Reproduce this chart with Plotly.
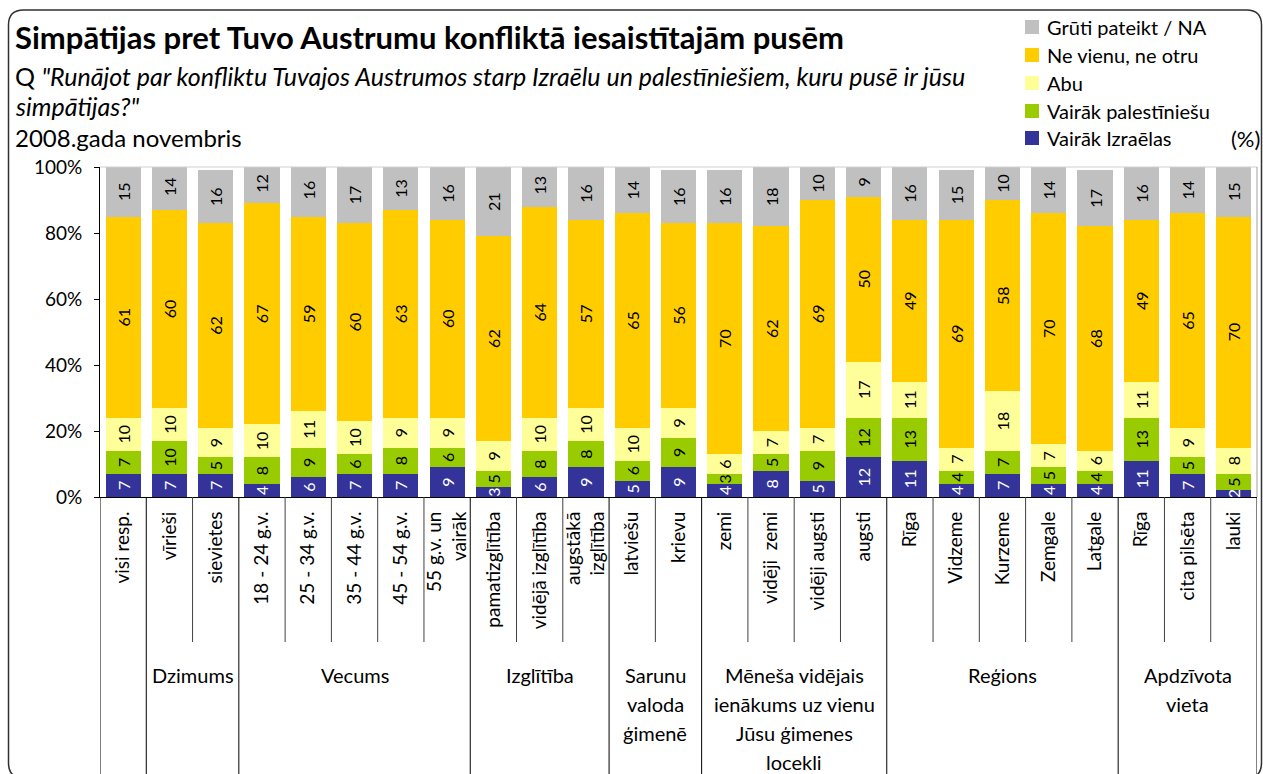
import plotly.graph_objects as go

# ---------------- data ----------------
categories = ["visi resp.", "vīrieši", "sievietes",
              "18 - 24 g.v.", "25 - 34 g.v.", "35 - 44 g.v.", "45 - 54 g.v.", "55 g.v. un<br>vairāk",
              "pamatizglītība", "vidējā izglītība", "augstākā<br>izglītība",
              "latviešu", "krievu",
              "zemi", "vidēji  zemi", "vidēji augsti", "augsti",
              "Rīga", "Vidzeme", "Kurzeme", "Zemgale", "Latgale",
              "Rīga", "cita pilsēta", "lauki"]

series_names = ["Vairāk Izraēlas", "Vairāk palestīniešu", "Abu", "Ne vienu, ne otru", "Grūti pateikt / NA"]
israel  = [7, 7, 7, 4, 6, 7, 7, 9, 3, 6, 9, 5, 9, 4, 8, 5, 12, 11, 4, 7, 4, 4, 11, 7, 2]
palest  = [7, 10, 5, 8, 9, 6, 8, 6, 5, 8, 8, 6, 9, 3, 5, 9, 12, 13, 4, 7, 5, 4, 13, 5, 5]
abu     = [10, 10, 9, 10, 11, 10, 9, 9, 9, 10, 10, 10, 9, 6, 7, 7, 17, 11, 7, 18, 7, 6, 11, 9, 8]
neither = [61, 60, 62, 67, 59, 60, 63, 60, 62, 64, 57, 65, 56, 70, 62, 69, 50, 49, 69, 58, 70, 68, 49, 65, 70]
na      = [15, 14, 16, 12, 16, 17, 13, 16, 21, 13, 16, 14, 16, 16, 18, 10, 9, 16, 15, 10, 14, 17, 16, 14, 15]

# groups: (label lines, first index, last index)
groups = [([], 0, 0),
          (["Dzimums"], 1, 2),
          (["Vecums"], 3, 7),
          (["Izglītība"], 8, 10),
          (["Sarunu", "valoda", "ģimenē"], 11, 12),
          (["Mēneša vidējais", "ienākums uz vienu", "Jūsu ģimenes", "locekli"], 13, 16),
          (["Reģions"], 17, 21),
          (["Apdzīvota", "vieta"], 22, 24)]

y_ticks = [0, 20, 40, 60, 80, 100]

colors = ["#333399", "#99CC00", "#FFFF99", "#FFCC00", "#C0C0C0"]
text_colors = ["white", "black", "black", "black", "black"]

FONT = "Lato"
W, H = 1263, 774
L, R, T, B = 100, 6, 167, 277
PW, PH = W - L - R, H - T - B


def pxx(px):
    return (px - L) / PW


def pxy(py):
    return (H - B - py) / PH


x = list(range(len(categories)))
fig = go.Figure()
for name, vals, col, tcol in zip(series_names, [israel, palest, abu, neither, na], colors, text_colors):
    fig.add_trace(go.Bar(
        x=x, y=vals, name=name, width=0.76,
        marker=dict(color=col, line=dict(width=0)),
        text=[str(v) for v in vals], textposition="inside", insidetextanchor="middle",
        textangle=-90, textfont=dict(family=FONT, size=16, color=tcol),
        showlegend=False, hoverinfo="skip",
    ))

shapes = []
# plot area top/right border
shapes.append(dict(type="line", xref="paper", yref="paper", x0=0, x1=1, y0=1, y1=1,
                   line=dict(color="#D0D0D0", width=1)))
shapes.append(dict(type="line", xref="paper", yref="paper", x0=1, x1=1, y0=0, y1=1,
                   line=dict(color="#A0A0A0", width=1)))

# separators below the axis
group_bounds = set()
for _, a, b in groups:
    group_bounds.add(a - 0.5)
    group_bounds.add(b + 0.5)
for i in range(len(categories) + 1):
    bx = i - 0.5
    is_group = bx in group_bounds
    ybot = pxy(780) if is_group else pxy(642)
    shapes.append(dict(type="line", xref="x", yref="paper", x0=bx, x1=bx, y0=0, y1=ybot,
                       line=dict(color="black" if is_group else "#404040", width=1)))

# outer rounded frame
fl, ft, fr, fb, rr = 8.5, 10, 1261.5, 778, 15
path = (f"M {pxx(fl)},{pxy(ft + rr)} "
        f"Q {pxx(fl)},{pxy(ft)} {pxx(fl + rr)},{pxy(ft)} "
        f"L {pxx(fr - rr)},{pxy(ft)} "
        f"Q {pxx(fr)},{pxy(ft)} {pxx(fr)},{pxy(ft + rr)} "
        f"L {pxx(fr)},{pxy(fb - rr)} "
        f"Q {pxx(fr)},{pxy(fb)} {pxx(fr - rr)},{pxy(fb)} "
        f"L {pxx(fl + rr)},{pxy(fb)} "
        f"Q {pxx(fl)},{pxy(fb)} {pxx(fl)},{pxy(fb - rr)} Z")
shapes.append(dict(type="path", xref="paper", yref="paper", path=path,
                   line=dict(color="#303030", width=1.5), layer="above"))

# legend swatches (top to bottom)
legend_order = [4, 3, 2, 1, 0]
legend_y = [27, 55, 83, 111, 138]
annotations = []
for idx, ly in zip(legend_order, legend_y):
    shapes.append(dict(type="rect", xref="paper", yref="paper",
                       x0=pxx(1025), x1=pxx(1039), y0=pxy(ly - 7), y1=pxy(ly + 7),
                       fillcolor=colors[idx], line=dict(width=0)))
    annotations.append(dict(xref="paper", yref="paper", x=pxx(1045), y=pxy(ly),
                            xanchor="left", yanchor="middle", showarrow=False,
                            text=series_names[idx], font=dict(family=FONT, size=20, color="black")))
annotations.append(dict(xref="paper", yref="paper", x=pxx(1262), y=pxy(138),
                        xanchor="right", yanchor="middle", showarrow=False,
                        text="(%)", font=dict(family=FONT, size=22, color="black")))

# titles
annotations.append(dict(xref="paper", yref="paper", x=pxx(13), y=pxy(37),
                        xanchor="left", yanchor="middle", showarrow=False,
                        text="<b>Simpātijas pret Tuvo Austrumu konfliktā iesaistītajām pusēm</b>",
                        font=dict(family=FONT, size=31, color="black")))
annotations.append(dict(xref="paper", yref="paper", x=pxx(13), y=pxy(76),
                        xanchor="left", yanchor="middle", showarrow=False,
                        text="Q <i>\"Runājot par konfliktu Tuvajos Austrumos starp Izraēlu un palestīniešiem, kuru pusē ir jūsu</i>",
                        font=dict(family=FONT, size=25, color="black")))
annotations.append(dict(xref="paper", yref="paper", x=pxx(13), y=pxy(106),
                        xanchor="left", yanchor="middle", showarrow=False,
                        text="<i>simpātijas?\"</i>",
                        font=dict(family=FONT, size=25, color="black")))
annotations.append(dict(xref="paper", yref="paper", x=pxx(13), y=pxy(137),
                        xanchor="left", yanchor="middle", showarrow=False,
                        text="2008.gada novembris",
                        font=dict(family=FONT, size=24, color="black")))

# group labels
for lines, a, b in groups:
    for k, line in enumerate(lines):
        annotations.append(dict(xref="x", yref="paper", x=(a + b) / 2, y=pxy(675 + 29 * k),
                                xanchor="center", yanchor="middle", showarrow=False,
                                text=line, font=dict(family=FONT, size=20, color="black")))

fig.update_layout(
    width=W, height=H,
    margin=dict(l=L, r=R, t=T, b=B, pad=0),
    barmode="stack",
    paper_bgcolor="white", plot_bgcolor="white",
    uniformtext=dict(minsize=16, mode="show"),
    shapes=shapes, annotations=annotations,
    xaxis=dict(range=[-0.5, len(categories) - 0.5], tickmode="array", tickvals=x, ticktext=categories,
               tickangle=-90, ticks="", showgrid=False, zeroline=False,
               showline=True, linecolor="black", linewidth=1, ticklabelstandoff=6,
               tickfont=dict(family=FONT, size=19, color="black")),
    yaxis=dict(range=[0, 100], tickmode="array", tickvals=y_ticks,
               ticktext=[f"{v}%" for v in y_ticks],
               ticks="outside", ticklen=5, tickcolor="black", showgrid=False, zeroline=False,
               showline=True, linecolor="black", linewidth=1, ticklabelstandoff=8,
               tickfont=dict(family=FONT, size=19, color="black")),
    font=dict(family=FONT, color="black"),
)

fig.write_html("out.html")
